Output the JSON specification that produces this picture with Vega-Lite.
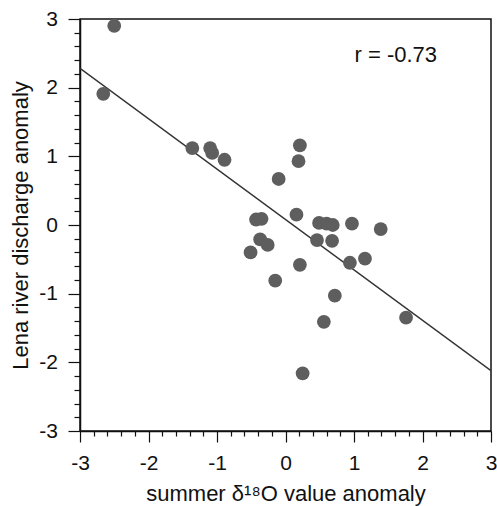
{
  "$schema": "https://vega.github.io/schema/vega-lite/v6.json",
  "autosize": "none",
  "padding": {"left": 80, "top": 19, "right": 6, "bottom": 75},
  "width": 411,
  "height": 412,
  "config": {
    "view": {"stroke": "#111", "strokeWidth": 1.5},
    "font": "Liberation Sans",
    "axis": {
      "domainColor": "#111",
      "domainWidth": 1.5,
      "tickColor": "#111",
      "tickWidth": 1.2,
      "grid": false,
      "labelFont": "Liberation Sans",
      "labelFontSize": 21,
      "labelColor": "#111",
      "labelOverlap": false,
      "labelBound": false,
      "labelFlush": false,
      "titleFont": "Liberation Sans",
      "titleFontSize": 22,
      "titleFontWeight": "normal",
      "titleColor": "#111"
    }
  },
  "datasets": {
    "pts": [
      {"d18O": -2.50, "discharge": 2.90},
      {"d18O": -2.66, "discharge": 1.91},
      {"d18O": -1.36, "discharge": 1.12},
      {"d18O": -1.10, "discharge": 1.12},
      {"d18O": -1.07, "discharge": 1.05},
      {"d18O": -0.89, "discharge": 0.95},
      {"d18O": 0.21, "discharge": 1.16},
      {"d18O": 0.19, "discharge": 0.93},
      {"d18O": -0.10, "discharge": 0.67},
      {"d18O": -0.43, "discharge": 0.08},
      {"d18O": -0.35, "discharge": 0.09},
      {"d18O": 0.16, "discharge": 0.15},
      {"d18O": 0.49, "discharge": 0.03},
      {"d18O": 0.60, "discharge": 0.02},
      {"d18O": 0.69, "discharge": 0.00},
      {"d18O": 0.97, "discharge": 0.02},
      {"d18O": 1.39, "discharge": -0.06},
      {"d18O": -0.37, "discharge": -0.21},
      {"d18O": -0.26, "discharge": -0.29},
      {"d18O": -0.51, "discharge": -0.40},
      {"d18O": 0.46, "discharge": -0.22},
      {"d18O": 0.68, "discharge": -0.23},
      {"d18O": 0.21, "discharge": -0.58},
      {"d18O": 0.94, "discharge": -0.55},
      {"d18O": 1.16, "discharge": -0.49},
      {"d18O": -0.15, "discharge": -0.81},
      {"d18O": 0.72, "discharge": -1.03},
      {"d18O": 0.56, "discharge": -1.41},
      {"d18O": 1.76, "discharge": -1.35},
      {"d18O": 0.25, "discharge": -2.16}
    ],
    "fit": [
      {"d18O": -3, "discharge": 2.28},
      {"d18O": 3, "discharge": -2.12}
    ],
    "note": [
      {"d18O": 1.61, "discharge": 2.475, "label": "r = -0.73"}
    ]
  },
  "encoding": {
    "x": {
      "field": "d18O",
      "type": "quantitative",
      "scale": {"domain": [-3, 3], "nice": false, "zero": false},
      "axis": {
        "title": "summer δ¹⁸O value anomaly",
        "values": [-3,-2.8,-2.6,-2.4,-2.2,-2,-1.8,-1.6,-1.4,-1.2,-1,-0.8,-0.6,-0.4,-0.2,0,0.2,0.4,0.6,0.8,1,1.2,1.4,1.6,1.8,2,2.2,2.4,2.6,2.8,3],
        "tickSize": {"condition": {"test": "abs(datum.value - round(datum.value)) < 0.001", "value": 11}, "value": 5},
        "labelExpr": "abs(datum.value - round(datum.value)) < 0.001 ? '' + round(datum.value) : ''",
        "labelPadding": 10,
        "titlePadding": 10
      }
    },
    "y": {
      "field": "discharge",
      "type": "quantitative",
      "scale": {"domain": [-3, 3], "nice": false, "zero": false},
      "axis": {
        "title": "Lena river discharge anomaly",
        "values": [-3,-2.8,-2.6,-2.4,-2.2,-2,-1.8,-1.6,-1.4,-1.2,-1,-0.8,-0.6,-0.4,-0.2,0,0.2,0.4,0.6,0.8,1,1.2,1.4,1.6,1.8,2,2.2,2.4,2.6,2.8,3],
        "tickSize": {"condition": {"test": "abs(datum.value - round(datum.value)) < 0.001", "value": 12}, "value": 6},
        "labelExpr": "abs(datum.value - round(datum.value)) < 0.001 ? '' + round(datum.value) : ''",
        "labelPadding": 10.5,
        "titlePadding": 6
      }
    }
  },
  "layer": [
    {
      "data": {"name": "fit"},
      "mark": {"type": "line", "color": "#333333", "strokeWidth": 1.5, "clip": true}
    },
    {
      "data": {"name": "pts"},
      "mark": {"type": "circle", "size": 190, "color": "#5e5e5e", "opacity": 1}
    },
    {
      "data": {"name": "note"},
      "mark": {"type": "text", "fontSize": 22, "font": "Liberation Sans", "color": "#111", "align": "center", "baseline": "middle"},
      "encoding": {"text": {"field": "label", "type": "nominal"}}
    }
  ]
}
